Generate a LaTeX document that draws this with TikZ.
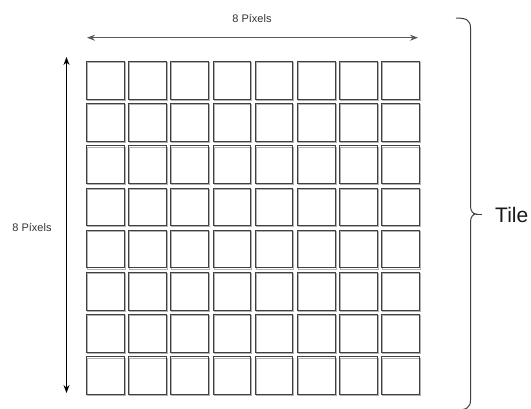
\documentclass[tikz,border=0pt]{standalone}
\usepackage{fontspec}
\setmainfont{Liberation Sans}
\usetikzlibrary{arrows.meta}
\begin{document}
\begin{tikzpicture}[x=1pt,y=-1pt,
  cell/.style={draw=black!75,line width=1pt,minimum width=37.5pt,minimum height=37.5pt,inner sep=0pt,anchor=north west},
  cellshadow/.style={draw=black!30,line width=1pt,minimum width=37.5pt,minimum height=37.5pt,inner sep=0pt,anchor=north west},
  dimarrow/.style={line width=1pt,{Stealth[length=8pt,width=6pt]}-{Stealth[length=8pt,width=6pt]}},
  smalllabel/.style={text=black!80,font=\fontsize{11}{13}\selectfont,inner sep=0pt},
  biglabel/.style={text=black!90,font=\fontsize{21}{24}\selectfont,inner sep=0pt,anchor=west},
  bracestyle/.style={draw=black!75,line width=1pt}]
\useasboundingbox (0,0) rectangle (531,408);
% grid
\foreach \i in {0,...,7}{
  \foreach \j in {0,...,7}{
    \node[cellshadow] at ({86+42.2*\i+1},{61+42.2*\j+1.2}) {};
    \node[cell] (s-\i-\j) at ({86+42.2*\i},{61+42.2*\j}) {};
  }
}
% horizontal dimension
\coordinate (hl) at (87,37.7);
\coordinate (hr) at (418,37.7);
\draw[dimarrow,draw=black!65] (hl) -- (hr);
\node[smalllabel] (htext) at (252,18) {8 Píxels};
% vertical dimension
\coordinate (vt) at (66.5,57);
\coordinate (vb) at (66.5,393);
\draw[dimarrow,draw=black] (vt) -- (vb);
\node[smalllabel] (vtext) at (32,227) {8 Píxels};
% brace
\coordinate (btop) at (456,18);
\coordinate (bmid) at (476,214);
\coordinate (bbot) at (456,410);
\coordinate (btip) at (482,214);
\draw[bracestyle] (btop) .. controls (466,18) and (470.5,20) .. (470.5,28)
  -- (470.5,206) .. controls (470.5,211) and (473,214) .. (bmid)
  .. controls (473,214) and (470.5,217) .. (470.5,222)
  -- (470.5,400) .. controls (470.5,408) and (466,410) .. (bbot);
\draw[bracestyle] (bmid) -- (btip);
\node[biglabel] (tile) at (495,215) {Tile};
\end{tikzpicture}
\end{document}
